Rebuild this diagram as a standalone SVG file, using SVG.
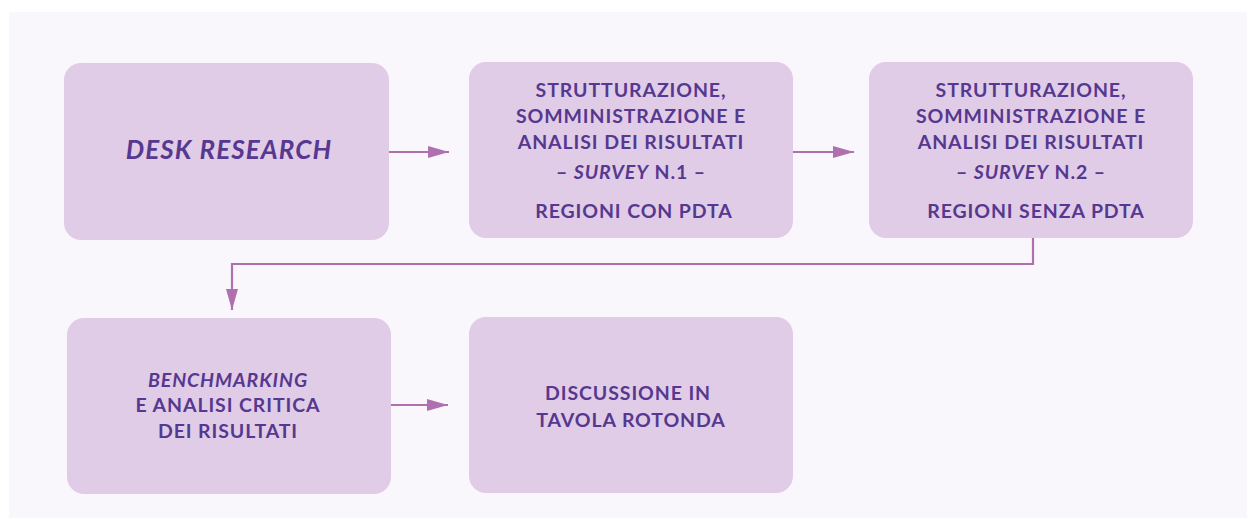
<svg xmlns="http://www.w3.org/2000/svg" width="1247" height="518" viewBox="0 0 1247 518">
<defs>
<style>
.box{fill:#e0cce6}
.t{font-family:"Lato","Liberation Sans",sans-serif;font-weight:700;fill:#563890;text-anchor:middle;font-size:19.5px;letter-spacing:0.9px}
.big{font-size:26px;font-style:italic;letter-spacing:1.1px}
.i{font-style:italic}
.c{fill:none;stroke:#b070b0;stroke-width:2.2}
</style>
<marker id="ah" markerWidth="22" markerHeight="12" refX="21" refY="6" orient="auto" markerUnits="userSpaceOnUse">
<path d="M0,0 L21,6 L0,12 Z" fill="#b070b0"/>
</marker>
</defs>
<rect x="0" y="0" width="1247" height="518" fill="#ffffff"/>
<rect x="9" y="12" width="1238" height="506" fill="#f9f7fb"/>
<g id="connectors">
<line class="c" x1="389" y1="152" x2="449" y2="152" marker-end="url(#ah)"/>
<line class="c" x1="793" y1="152" x2="854" y2="152" marker-end="url(#ah)"/>
<polyline class="c" points="1033,238 1033,264 232,264 232,310" marker-end="url(#ah)"/>
<line class="c" x1="391" y1="405" x2="448" y2="405" marker-end="url(#ah)"/>
</g>
<g id="n1">
<rect class="box" x="64" y="63" width="325" height="177" rx="17"/>
<text class="t big" x="229" y="159">DESK RESEARCH</text>
</g>
<g id="n2">
<rect class="box" x="469" y="62" width="324" height="176" rx="17"/>
<text class="t" x="631" y="97">STRUTTURAZIONE,</text>
<text class="t" x="631" y="123">SOMMINISTRAZIONE E</text>
<text class="t" x="631" y="149">ANALISI DEI RISULTATI</text>
<text class="t" x="631" y="179">– <tspan class="i">SURVEY</tspan> N.1 –</text>
<text class="t" x="634" y="218">REGIONI CON PDTA</text>
</g>
<g id="n3">
<rect class="box" x="869" y="62" width="324" height="176" rx="17"/>
<text class="t" x="1031" y="97">STRUTTURAZIONE,</text>
<text class="t" x="1031" y="123">SOMMINISTRAZIONE E</text>
<text class="t" x="1031" y="149">ANALISI DEI RISULTATI</text>
<text class="t" x="1031" y="179">– <tspan class="i">SURVEY</tspan> N.2 –</text>
<text class="t" x="1036" y="218">REGIONI SENZA PDTA</text>
</g>
<g id="n4">
<rect class="box" x="67" y="318" width="324" height="176" rx="17"/>
<text class="t i" x="228" y="387">BENCHMARKING</text>
<text class="t" x="228" y="412">E ANALISI CRITICA</text>
<text class="t" x="228" y="438">DEI RISULTATI</text>
</g>
<g id="n5">
<rect class="box" x="469" y="317" width="324" height="176" rx="17"/>
<text class="t" x="628" y="400">DISCUSSIONE IN</text>
<text class="t" x="631" y="427">TAVOLA ROTONDA</text>
</g>
</svg>
